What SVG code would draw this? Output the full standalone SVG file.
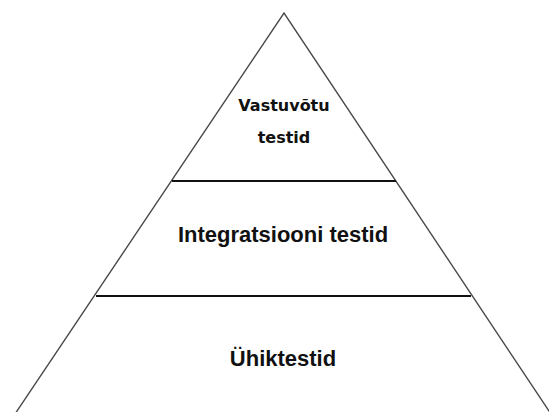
<svg xmlns="http://www.w3.org/2000/svg" width="549" height="412" viewBox="0 0 549 412">
  <style>
    .side { stroke: #4a4a4a; stroke-width: 1.4; fill: none; }
    .div { stroke: #111; stroke-width: 2; fill: none; }
    .lbl { font-family: "Liberation Sans", Arial, sans-serif; font-weight: bold; font-size: 22px; fill: #111; text-anchor: middle; }
    .lbl-s { font-family: "DejaVu Sans", Verdana, sans-serif; font-weight: bold; font-size: 16px; fill: #111; text-anchor: middle; }
  </style>
  <rect width="549" height="412" fill="#fff"/>
  <g id="pyramid">
    <path class="side" d="M15,414 L284,13 L551,414"/>
  </g>
  <g id="connectors">
    <line class="div" x1="172" y1="181" x2="396" y2="181"/>
    <line class="div" x1="96" y1="296" x2="471" y2="296"/>
  </g>
  <g id="acceptance">
    <text class="lbl-s" x="284" y="110.5">Vastuvõtu</text>
    <text class="lbl-s" x="284" y="143">testid</text>
  </g>
  <g id="integration">
    <text class="lbl" x="283" y="242">Integratsiooni testid</text>
  </g>
  <g id="unit">
    <text class="lbl" x="283" y="366">Ühiktestid</text>
  </g>
</svg>
